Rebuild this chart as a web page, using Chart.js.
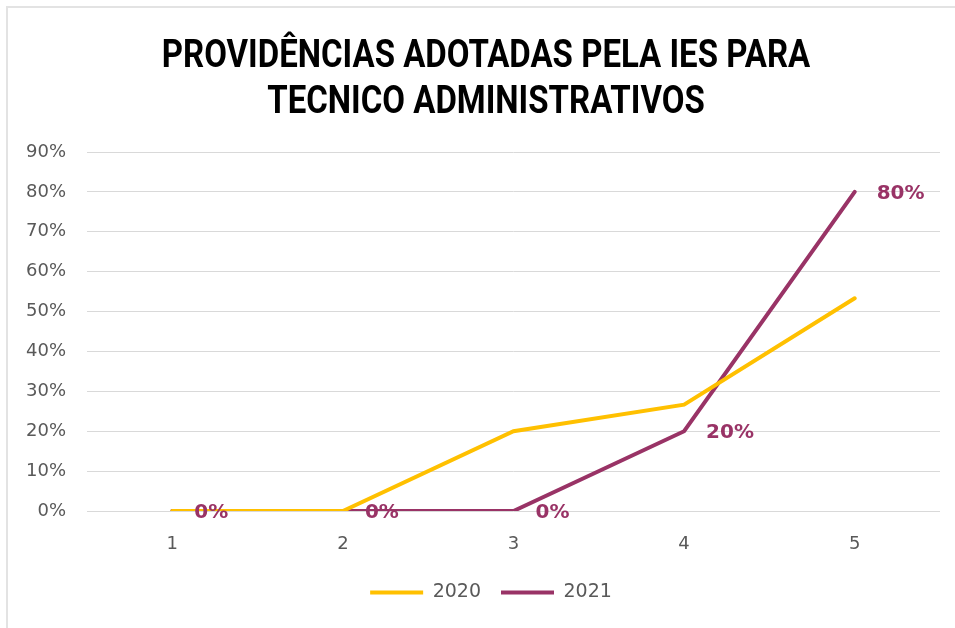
<!DOCTYPE html>
<html>
<head>
<meta charset="utf-8">
<script src="https://cdn.jsdelivr.net/npm/chart.js@4"></script>
<style>
  html, body { margin: 0; padding: 0; background: #fff; }
  #wrap { position: relative; width: 955px; height: 628px; }
  #frame { position: absolute; left: 6px; top: 6px; right: 0; bottom: 0; border-left: 2px solid #e3e3e3; border-top: 2px solid #e3e3e3; pointer-events: none; }
  canvas { position: absolute; left: 0; top: 0; }
</style>
</head>
<body>
<div id="wrap">
  <canvas id="c" width="955" height="628"></canvas>
  <div id="frame"></div>
</div>
<script>
const titleLines = ['PROVIDÊNCIAS ADOTADAS PELA IES PARA', 'TECNICO ADMINISTRATIVOS'];
const categories = ['1', '2', '3', '4', '5'];
const series2020 = [0, 0, 0.20, 0.2667, 0.5333];
const series2021 = [0, 0, 0, 0.20, 0.80];
const seriesNames = ['2020', '2021'];
const yTickMax = 0.9;
const yTickStep = 0.1;

const labelFont = 'DejaVu Sans, sans-serif';

const titlePlugin = {
  id: 'condensedTitle',
  afterDraw(chart) {
    const ctx = chart.ctx;
    ctx.save();
    ctx.font = 'bold 38px Roboto, sans-serif';
    ctx.fillStyle = '#000';
    ctx.textAlign = 'center';
    ctx.textBaseline = 'alphabetic';
    const cx = 486;
    const sx = 0.868;
    const baselines = [67, 113];
    titleLines.forEach((line, i) => {
      ctx.save();
      ctx.translate(cx, baselines[i]);
      ctx.scale(sx, 1);
      ctx.fillText(line, 0, 0);
      ctx.restore();
    });
    ctx.restore();
  }
};

const legendShiftPlugin = {
  id: 'legendShift',
  afterLayout(chart) {
    const lg = chart.legend;
    if (lg) { lg.left += 21; lg.right += 21; }
  }
};

const dataLabelPlugin = {
  id: 'dataLabels2021',
  afterDatasetsDraw(chart) {
    const ctx = chart.ctx;
    const meta = chart.getDatasetMeta(1);
    const ds = chart.data.datasets[1];
    ctx.save();
    ctx.font = 'bold 20px ' + labelFont;
    ctx.fillStyle = '#993366';
    ctx.textAlign = 'left';
    ctx.textBaseline = 'middle';
    meta.data.forEach((pt, i) => {
      const v = ds.data[i];
      ctx.fillText(Math.round(v * 100) + '%', pt.x + 22, pt.y + 2);
    });
    ctx.restore();
  }
};

new Chart(document.getElementById('c'), {
  type: 'line',
  data: {
    labels: categories,
    datasets: [
      {
        label: seriesNames[0],
        data: series2020,
        borderColor: '#FFC000',
        backgroundColor: '#FFC000',
        borderWidth: 4,
        pointRadius: 0,
        pointStyle: 'line',
        borderCapStyle: 'round',
        tension: 0
      },
      {
        label: seriesNames[1],
        data: series2021,
        borderColor: '#993366',
        backgroundColor: '#993366',
        borderWidth: 4,
        pointRadius: 0,
        pointStyle: 'line',
        borderCapStyle: 'round',
        tension: 0
      }
    ]
  },
  options: {
    responsive: false,
    animation: false,
    layout: { padding: { left: 0, right: 15, top: 152, bottom: 16 } },
    plugins: {
      title: { display: false },
      legend: {
        display: true,
        position: 'bottom',
        labels: {
          usePointStyle: true,
          boxWidth: 53,
          pointStyleWidth: 53,
          boxHeight: 4,
          padding: 20,
          color: '#595959',
          font: { family: labelFont, size: 19 }
        }
      },
      tooltip: { enabled: false }
    },
    scales: {
      x: {
        offset: true,
        grid: { display: false, drawTicks: false },
        border: { display: false },
        ticks: { color: '#595959', font: { family: labelFont, size: 18 }, padding: 23 },
        afterFit(s) { s.height = 52; }
      },
      y: {
        min: 0,
        max: yTickMax,
        grid: { color: '#d9d9d9', lineWidth: 1, drawTicks: false },
        border: { display: false },
        ticks: {
          stepSize: yTickStep,
          color: '#595959',
          font: { family: labelFont, size: 18 },
          padding: 21,
          callback: v => Math.round(v * 100) + '%'
        },
        afterFit(s) { s.width = 87; }
      }
    }
  },
  plugins: [dataLabelPlugin, titlePlugin, legendShiftPlugin]
});
</script>
</body>
</html>
